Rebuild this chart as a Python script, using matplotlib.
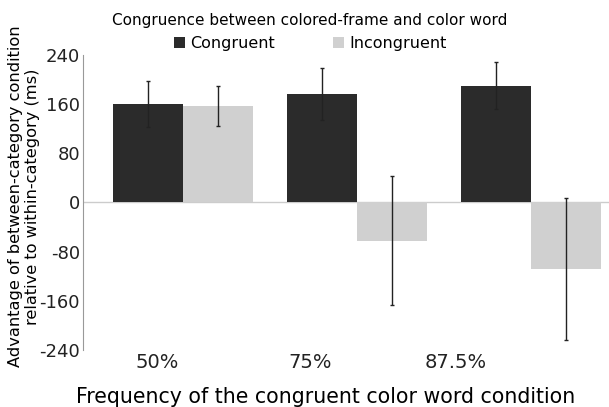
import matplotlib
matplotlib.use("Agg")
import matplotlib.pyplot as plt
import numpy as np

# frequency of congruent condition
freqs = ["50%", "75%", "87.5%"]
congruent = [160, 176, 190]
congruent_err = [38, 42, 38]
incongruent = [157, -62, -108]
incongruent_err = [33, 105, 116]

plt.rcParams['font.family'] = 'DejaVu Sans'
plt.rcParams['axes.unicode_minus'] = False

fig = plt.figure(figsize=(6.09, 4.07), dpi=100)
ax = fig.add_axes([0.136, 0.14, 0.864, 0.725])

x = np.arange(len(freqs))
w = 0.4
ax.axhline(0, color="#cccccc", lw=1, zorder=0)
ax.bar(x - w / 2, congruent, w, color="#2b2b2b", label="Congruent",
       yerr=congruent_err, error_kw=dict(ecolor="#222222", elinewidth=1, capsize=1.5))
ax.bar(x + w / 2, incongruent, w, color="#d0d0d0", label="Incongruent",
       yerr=incongruent_err, error_kw=dict(ecolor="#222222", elinewidth=1, capsize=1.5))

ax.set_xlim(-0.575, 2.448)
ax.set_ylim(-240, 240)
ax.set_yticks([-240, -160, -80, 0, 80, 160, 240])
ax.tick_params(axis="y", length=0, pad=2, labelsize=13, colors="#222222")
# labels sit a bit left of the group centres in the original
ax.set_xticks([-0.15, 0.73, 1.57])
ax.set_xticklabels(freqs)
ax.tick_params(axis="x", length=0, pad=2, labelsize=14, colors="#222222")

for s in ["top", "right", "bottom"]:
    ax.spines[s].set_visible(False)
ax.spines["left"].set_color("#999999")

ax.set_xlabel("Frequency of the congruent color word condition", fontsize=14.8)
ax.xaxis.set_label_coords(0.462, -0.127)
ax.set_ylabel("Advantage of between-category condition\nrelative to within-category (ms)",
              fontsize=11.7, linespacing=1.15)
ax.yaxis.set_label_coords(-0.082, 0.52)

leg = ax.legend(title="Congruence between colored-frame and color word", ncol=2,
                frameon=False, loc="lower center", bbox_to_anchor=(0.432, 0.985),
                fontsize=11.5, title_fontsize=11, handlelength=0.7, handleheight=0.7,
                columnspacing=3.6, handletextpad=0.35, borderpad=0, labelspacing=0.5)

fig.savefig("out.png", dpi=100)
